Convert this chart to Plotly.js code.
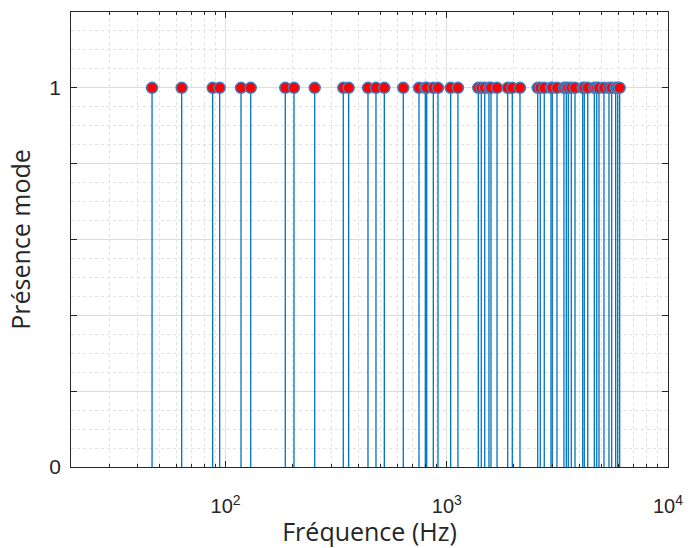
<!DOCTYPE html>
<html>
<head>
<meta charset="utf-8">
<script src="https://cdn.plot.ly/plotly-3.0.1.min.js"></script>
<style>html,body{margin:0;padding:0;background:#fff;}#chart{width:689px;height:548px;}</style>
</head>
<body>
<div id="chart"></div>
<script>
// Mode frequencies (Hz)
const frequencies = [46.5, 63.3, 87.4, 94.0, 117.4, 129.9, 186.1, 203.8, 252.8, 340.4, 360, 440.2, 478.4, 521.8, 635.6,
  748.6, 799.4, 811, 869, 912.4, 1041, 1123, 1388, 1432, 1484, 1551, 1584, 1687, 1885, 1977, 2142,
  2576, 2646, 2758, 2958, 2998, 3148, 3386, 3470, 3542, 3654, 3798, 4116, 4184, 4336, 4644, 4762, 4876,
  5136, 5410, 5564, 5800, 5922, 6048];
// Presence of each mode
const presence = frequencies.map(() => 1);
const xTickVals = [100, 1000, 10000];
const xTickText = ['10<sup>2</sup>', '10<sup>3</sup>', '10<sup>4</sup>'];
const yGridVals = [0, 0.2, 0.4, 0.6, 0.8, 1, 1.2];
const yLabelVals = [0, 1];
const yLabelText = ['0', '1'];

const stemX = [], stemY = [];
frequencies.forEach((f, i) => { stemX.push(f, f, null); stemY.push(0, presence[i], null); });

const blue = '#0072BD';
const traces = [
  {x: stemX, y: stemY, type: 'scatter', mode: 'lines', line: {color: blue, width: 1.3}, hoverinfo: 'skip', showlegend: false},
  {x: frequencies, y: presence, yaxis: 'y2', type: 'scatter', mode: 'markers',
   marker: {symbol: 'circle', size: 11, color: '#ff0000', line: {color: '#3f7fc2', width: 1.5}}, showlegend: false}
];

const titleFont = '"Open Sans", "Noto Sans", sans-serif';
const tickFont = '"Liberation Sans", Arial, sans-serif';
const layout = {
  width: 689, height: 548,
  margin: {l: 71, r: 21, t: 12, b: 81},
  paper_bgcolor: '#fff', plot_bgcolor: '#fff',
  font: {family: titleFont, color: '#262626'},
  xaxis: {
    type: 'log', range: [Math.log10(20), 4],
    tickvals: xTickVals, ticktext: xTickText,
    tickfont: {size: 20, color: '#262626', family: tickFont},
    ticklabelstandoff: 21,
    ticks: 'inside', ticklen: 6, tickcolor: '#262626',
    showline: true, linecolor: '#262626', linewidth: 1, mirror: 'ticks',
    showgrid: true, gridcolor: '#dcdcdc', gridwidth: 1,
    minor: {dtick: 'D1', showgrid: true, gridcolor: '#e2e2e2', griddash: 'dot', ticks: 'inside', ticklen: 3, tickcolor: '#262626'},
    zeroline: false,
    title: {text: 'Fréquence (Hz)', font: {size: 25, color: '#262626', family: titleFont}, standoff: 4}
  },
  yaxis: {
    range: [0, 1.2],
    tickvals: yGridVals, showticklabels: false,
    ticks: 'inside', ticklen: 6, tickcolor: '#262626',
    showline: true, linecolor: '#262626', linewidth: 1, mirror: 'ticks',
    showgrid: true, gridcolor: '#dcdcdc', gridwidth: 1,
    minor: {dtick: 0.05, showgrid: true, gridcolor: '#e2e2e2', griddash: 'dot', ticks: ''},
    zeroline: false
  },
  yaxis2: {
    overlaying: 'y', side: 'left', range: [0, 1.2],
    tickvals: yLabelVals, ticktext: yLabelText,
    tickfont: {size: 21, color: '#262626', family: tickFont},
    ticklabelstandoff: 9,
    ticks: '', showgrid: false, showline: false, zeroline: false,
    title: {text: 'Présence mode', font: {size: 25, color: '#262626', family: titleFont}, standoff: 11}
  }
};
Plotly.newPlot('chart', traces, layout, {displayModeBar: false, staticPlot: true});
</script>
</body>
</html>
